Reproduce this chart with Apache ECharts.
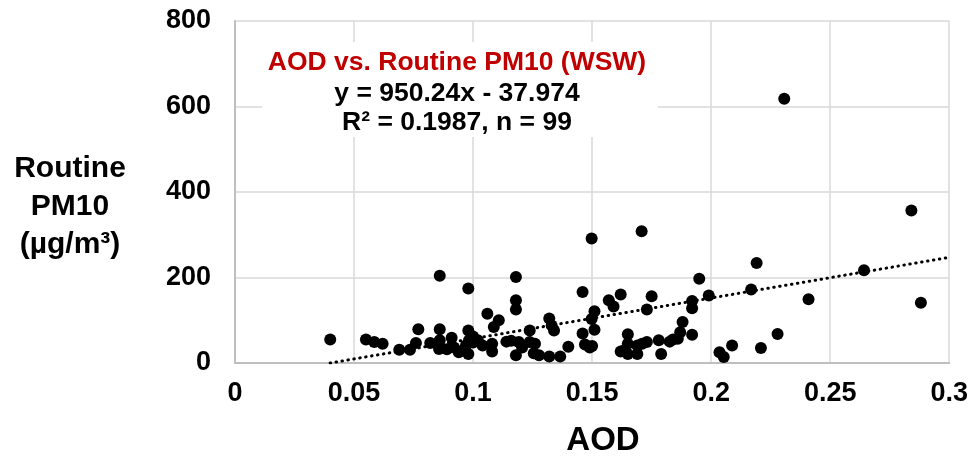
<!DOCTYPE html>
<html>
<head>
<meta charset="utf-8">
<script src="https://cdn.jsdelivr.net/npm/echarts@6/dist/echarts.min.js"></script>
<style>
html,body{margin:0;padding:0;background:#fff;}
#chart{width:971px;height:462px;}
</style>
</head>
<body>
<div id="chart"></div>
<script>
// AOD values (x)
var aod = [
  0.040, 0.055, 0.0585, 0.062, 0.069, 0.0735, 0.076, 0.077, 0.082, 0.086,
  0.086, 0.086, 0.0857, 0.089, 0.091, 0.094, 0.098, 0.098, 0.0983, 0.098,
  0.097, 0.100, 0.102, 0.104, 0.106, 0.1087, 0.1108, 0.108, 0.114, 0.118,
  0.118, 0.118, 0.118, 0.1192, 0.1206, 0.1238, 0.1238, 0.1255, 0.1277, 0.132,
  0.132, 0.133, 0.134, 0.1366, 0.140, 0.146, 0.146, 0.147, 0.149, 0.1498,
  0.1498, 0.151, 0.151, 0.157, 0.159, 0.162, 0.162, 0.165, 0.165, 0.165,
  0.169, 0.169, 0.1708, 0.173, 0.173, 0.175, 0.178, 0.179, 0.1826, 0.186,
  0.188, 0.187, 0.192, 0.192, 0.192, 0.195, 0.199, 0.2035, 0.2053, 0.2088,
  0.2168, 0.2191, 0.2209, 0.2279, 0.2307, 0.2409, 0.2642, 0.2841, 0.2881, 0.1635,
  0.092, 0.096, 0.100, 0.108, 0.116, 0.126, 0.150, 0.171, 0.184
];
// Routine PM10 values (y)
var pm10 = [
  55, 55, 49, 45, 31, 31, 47, 79, 47, 204,
  79, 53, 33, 32, 59, 25, 174, 76, 53, 21,
  41, 62, 53, 41, 115, 84, 100, 27, 50, 201,
  147, 125, 18, 49, 36, 76, 49, 23, 18, 15,
  104, 88, 76, 15, 38, 166, 69, 43, 36, 291,
  103, 121, 78, 147, 132, 160, 27, 67, 45, 21,
  41, 21, 308, 125, 49, 156, 53, 21, 50, 57,
  96, 72, 145, 128, 66, 197, 158, 25, 14, 41,
  172, 234, 35, 68, 618, 149, 217, 357, 141, 30,
  36, 30, 48, 45, 52, 45, 40, 45, 55
];
var slope = 950.24, intercept = -37.974;
var xTickLabels = ['0', '0.05', '0.1', '0.15', '0.2', '0.25', '0.3'];
var yTickLabels = ['0', '200', '400', '600', '800'];

var points = aod.map(function (x, i) { return [x, pm10[i]]; });
var xStart = -intercept / slope, xEnd = 0.3;
var trend = [[xStart, slope * xStart + intercept], [xEnd, slope * xEnd + intercept]];

var FONT = '"Liberation Sans", Arial, sans-serif';
var chart = echarts.init(document.getElementById('chart'));
chart.setOption({
  animation: false,
  backgroundColor: '#ffffff',
  grid: { left: 235, right: 18, top: 21, bottom: 99 },
  xAxis: {
    type: 'value', min: 0, max: 0.3, interval: 0.05,
    axisLine: { show: true, lineStyle: { color: '#bfbfbf', width: 2 } },
    axisTick: { show: false },
    splitLine: { show: true, lineStyle: { color: '#d9d9d9', width: 1.5 } },
    axisLabel: {
      margin: 17, fontFamily: FONT, fontWeight: 'bold', fontSize: 27, color: '#000',
      formatter: function (v) { return xTickLabels[Math.round(v / 0.05)]; }
    }
  },
  yAxis: {
    type: 'value', min: 0, max: 800, interval: 200,
    axisLine: { show: true, lineStyle: { color: '#bfbfbf', width: 2 } },
    axisTick: { show: false },
    splitLine: { show: true, lineStyle: { color: '#d9d9d9', width: 1.5 } },
    axisLabel: {
      margin: 24, fontFamily: FONT, fontWeight: 'bold', fontSize: 27, color: '#000',
      formatter: function (v) { return yTickLabels[Math.round(v / 200)]; }
    }
  },
  graphic: [
    { type: 'rect', shape: { x: 262, y: 42, width: 396, height: 95 }, style: { fill: '#ffffff' }, z: 10 },
    { type: 'text', x: 457, y: 63, z: 11, style: { text: 'AOD vs. Routine PM10 (WSW)', fill: '#c00000', font: 'bold 26.5px ' + FONT, textAlign: 'center', textVerticalAlign: 'middle' } },
    { type: 'text', x: 457, y: 94, z: 11, style: { text: 'y = 950.24x - 37.974', fill: '#000', font: 'bold 26.5px ' + FONT, textAlign: 'center', textVerticalAlign: 'middle' } },
    { type: 'text', x: 457, y: 123, z: 11, style: { text: 'R² = 0.1987, n = 99', fill: '#000', font: 'bold 26.5px ' + FONT, textAlign: 'center', textVerticalAlign: 'middle' } },
    { type: 'text', x: 70, y: 207, z: 11, style: { text: 'Routine\nPM10\n(µg/m³)', fill: '#000', font: 'bold 30px ' + FONT, textAlign: 'center', textVerticalAlign: 'middle', lineHeight: 38 } },
    { type: 'text', x: 603, y: 441, z: 11, style: { text: 'AOD', fill: '#000', font: 'bold 33px ' + FONT, textAlign: 'center', textVerticalAlign: 'middle' } }
  ],
  series: [
    {
      type: 'line', data: trend, showSymbol: false, symbol: 'none', z: 2,
      lineStyle: { color: '#000', width: 3, type: [0.5, 5.5], cap: 'round' }
    },
    {
      type: 'scatter', data: points, symbol: 'circle', symbolSize: 12, z: 3,
      itemStyle: { color: '#000', opacity: 1 }
    }
  ]
});
</script>
</body>
</html>
